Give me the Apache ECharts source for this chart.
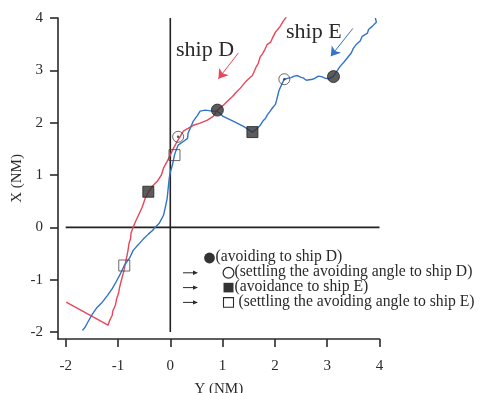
<!DOCTYPE html>
<html>
<head>
<meta charset="utf-8">
<script src="https://cdn.jsdelivr.net/npm/echarts@6/dist/echarts.min.js"></script>
<style>
  html, body { margin: 0; padding: 0; background: #fff; }
  #chart { width: 481px; height: 393px; }
</style>
</head>
<body>
<div id="chart"></div>
<script>
// Track of ship D (red), from upper right to lower left: [Y (NM), X (NM)]
const shipDTrack = [
  [2.24, 4.05], [2.16, 3.94], [2.10, 3.84], [2.06, 3.79], [2.01, 3.73], [1.95, 3.61],
  [1.92, 3.54], [1.85, 3.49], [1.80, 3.38], [1.76, 3.31], [1.72, 3.26], [1.68, 3.13],
  [1.64, 3.06], [1.57, 2.90], [1.50, 2.84], [1.43, 2.77], [1.34, 2.66], [1.26, 2.58],
  [1.19, 2.50], [1.10, 2.42], [1.01, 2.33], [0.90, 2.24], [0.82, 2.12], [0.71, 2.05],
  [0.57, 1.99], [0.44, 1.95], [0.34, 1.89], [0.25, 1.84], [0.19, 1.74], [0.13, 1.64],
  [0.06, 1.51], [0.00, 1.38], [-0.06, 1.26], [-0.13, 1.13], [-0.17, 1.00], [-0.25, 0.88],
  [-0.33, 0.80], [-0.42, 0.67], [-0.48, 0.55], [-0.54, 0.38], [-0.60, 0.25], [-0.66, 0.12],
  [-0.71, 0.00], [-0.75, -0.11], [-0.76, -0.22], [-0.79, -0.31], [-0.81, -0.45],
  [-0.83, -0.55], [-0.86, -0.69], [-0.88, -0.80], [-0.90, -0.88], [-0.94, -1.03],
  [-0.97, -1.15], [-0.99, -1.26], [-1.03, -1.38], [-1.05, -1.49], [-1.10, -1.60],
  [-1.11, -1.68], [-1.16, -1.78], [-1.19, -1.87], [-1.99, -1.43]
];

// Track of ship E (blue), from upper right to lower left
const shipETrack = [
  [3.92, 4.00], [3.94, 3.92], [3.86, 3.84], [3.79, 3.78], [3.77, 3.71], [3.67, 3.65],
  [3.63, 3.56], [3.56, 3.50], [3.50, 3.42], [3.46, 3.33], [3.38, 3.23], [3.33, 3.17],
  [3.25, 3.08], [3.17, 2.96], [3.12, 2.89], [3.04, 2.84], [2.96, 2.85], [2.89, 2.88],
  [2.83, 2.89], [2.77, 2.85], [2.72, 2.83], [2.66, 2.82], [2.60, 2.81], [2.55, 2.85],
  [2.49, 2.87], [2.43, 2.90], [2.37, 2.89], [2.31, 2.86], [2.26, 2.85], [2.18, 2.83],
  [2.14, 2.75], [2.08, 2.62], [2.05, 2.50], [2.03, 2.42], [2.01, 2.35], [1.96, 2.29],
  [1.91, 2.22], [1.85, 2.14], [1.82, 2.08], [1.77, 2.03], [1.72, 1.95], [1.65, 1.88],
  [1.57, 1.82], [1.40, 1.93], [1.20, 2.03], [1.01, 2.12], [0.90, 2.22], [0.80, 2.22],
  [0.67, 2.24], [0.57, 2.22], [0.52, 2.14], [0.44, 2.03], [0.38, 1.89], [0.34, 1.80],
  [0.33, 1.70], [0.25, 1.64], [0.23, 1.61], [0.15, 1.57], [0.11, 1.47], [0.08, 1.38],
  [0.04, 1.19], [0.00, 1.05], [-0.02, 0.94], [-0.04, 0.75], [-0.06, 0.55], [-0.10, 0.36],
  [-0.13, 0.23], [-0.21, 0.08], [-0.29, 0.00], [-0.34, -0.06], [-0.42, -0.13],
  [-0.52, -0.23], [-0.61, -0.33], [-0.71, -0.44], [-0.78, -0.59], [-0.88, -0.73],
  [-0.96, -0.90], [-1.03, -1.03], [-1.11, -1.17], [-1.20, -1.30], [-1.30, -1.43],
  [-1.40, -1.53], [-1.49, -1.66], [-1.57, -1.80], [-1.63, -1.91], [-1.68, -1.97]
];

// Event markers
const avoidingToD = [[0.90, 2.24], [3.12, 2.88]];        // filled circle
const settlingToD = [[0.15, 1.73], [2.18, 2.83]];        // open circle
const avoidanceToE = [[-0.42, 0.68], [1.57, 1.82]];      // filled square
const settlingToE = [[0.08, 1.38], [-0.88, -0.73]];      // open square

// Heading arrows
const arrowD = [[1.30, 3.33], [0.92, 2.84]];
const arrowE = [[3.49, 3.80], [3.07, 3.27]];

// Reference axes through the origin
const zeroVertical = [[0, -2], [0, 4]];
const zeroHorizontal = [[-2, 0], [4, 0]];

const tickValues = [-2, -1, 0, 1, 2, 3, 4];

const legendRows = [
  '(avoiding to ship D)',
  '(settling the avoiding angle to ship D)',
  '(avoidance to ship E)',
  ' (settling the avoiding angle to ship E)'
];

const RED = '#e8475a';
const BLUE = '#3274c6';
const INK = '#2a2a2a';
const SERIF = '"Liberation Serif", "Times New Roman", serif';

const chart = echarts.init(document.getElementById('chart'), null, { renderer: 'canvas' });

function axisCommon(name, nameGap) {
  return {
    type: 'value',
    name: name,
    nameLocation: 'middle',
    nameGap: nameGap,
    nameMoveOverlap: false,
    nameTextStyle: { fontFamily: SERIF, fontSize: 15, color: INK },
    splitLine: { show: false },
    axisLine: { show: true, onZero: false, lineStyle: { color: INK, width: 1.6 } },
    axisTick: { show: true, customValues: tickValues, length: 8, lineStyle: { color: INK, width: 1.6 } },
    axisLabel: { customValues: tickValues, fontFamily: SERIF, fontSize: 15, color: INK }
  };
}

const xAxis = Object.assign(axisCommon('Y (NM)', 43), { min: -2.147, max: 4 });
xAxis.axisLabel.margin = 20;
const yAxis = Object.assign(axisCommon('X (NM)', 33), { min: -2.134, max: 4 });
yAxis.axisLabel.margin = 15;

function markerSeries(data, symbol, size, filled) {
  return {
    type: 'scatter',
    data: data,
    symbol: symbol,
    symbolSize: size,
    z: 5,
    itemStyle: filled
      ? { color: '#333', borderColor: '#222', borderWidth: 1 }
      : { color: 'rgba(255,255,255,0)', borderColor: '#444', borderWidth: 1 }
  };
}

function plainLine(data, color, width) {
  return {
    type: 'line',
    data: data,
    symbol: 'none',
    silent: true,
    lineStyle: { color: color, width: width }
  };
}

function arrowSeries(coords, color) {
  return {
    type: 'lines',
    coordinateSystem: 'cartesian2d',
    silent: true,
    symbol: ['none', 'arrow'],
    symbolSize: 9,
    lineStyle: { color: color, width: 1, opacity: 1 },
    data: [{ coords: coords }]
  };
}

const legendX = 183, legendY0 = 258, legendStep = 14.8;
const legendGraphics = [];
legendRows.forEach(function (txt, i) {
  const y = legendY0 + i * legendStep;
  if (i > 0) {
    // small pointer arrow in front of the row
    legendGraphics.push({
      type: 'line', shape: { x1: legendX, y1: y, x2: legendX + 12, y2: y },
      style: { stroke: INK, lineWidth: 1 }
    });
    legendGraphics.push({
      type: 'polygon',
      shape: { points: [[legendX + 15, y], [legendX + 10, y - 2.2], [legendX + 10, y + 2.2]] },
      style: { fill: INK }
    });
  }
  const sx = i === 0 ? 209.5 : 228.5;
  if (i === 0 || i === 1) {
    legendGraphics.push({
      type: 'circle', shape: { cx: sx, cy: y, r: 5.4 },
      style: i === 0 ? { fill: '#333' } : { fill: '#fff', stroke: INK, lineWidth: 1.2 }
    });
  } else {
    legendGraphics.push({
      type: 'rect', shape: { x: sx - 5, y: y - 4.8, width: 10, height: 9.6 },
      style: i === 2 ? { fill: '#333' } : { fill: '#fff', stroke: INK, lineWidth: 1.1 }
    });
  }
  legendGraphics.push({
    type: 'text', left: sx + 6, top: y - 9,
    style: { text: txt, font: '15.7px ' + SERIF, fill: INK }
  });
});

chart.setOption({
  animation: false,
  backgroundColor: '#fff',
  grid: { left: 58, right: 101.5, top: 18, bottom: 54, containLabel: false, outerBoundsMode: 'none' },
  xAxis: xAxis,
  yAxis: yAxis,
  series: [
    plainLine(zeroVertical, '#222', 1.6),
    plainLine(zeroHorizontal, '#222', 1.6),
    plainLine(shipDTrack, RED, 1.4),
    plainLine(shipETrack, BLUE, 1.4),
    arrowSeries(arrowD, RED),
    arrowSeries(arrowE, BLUE),
    markerSeries(avoidingToD, 'circle', 12, true),
    markerSeries(settlingToD, 'circle', 11, false),
    {
      type: 'scatter', data: settlingToD, symbol: 'circle', symbolSize: 2.5, z: 6,
      itemStyle: { color: '#333' }
    },
    markerSeries(avoidanceToE, 'rect', 11, true),
    markerSeries(settlingToE, 'rect', 11, false)
  ],
  graphic: [
    { type: 'text', left: 176, top: 39, style: { text: 'ship D', font: '22px ' + SERIF, fill: INK } },
    { type: 'text', left: 286, top: 21, style: { text: 'ship E', font: '22px ' + SERIF, fill: INK } }
  ].concat(legendGraphics)
});
</script>
</body>
</html>
